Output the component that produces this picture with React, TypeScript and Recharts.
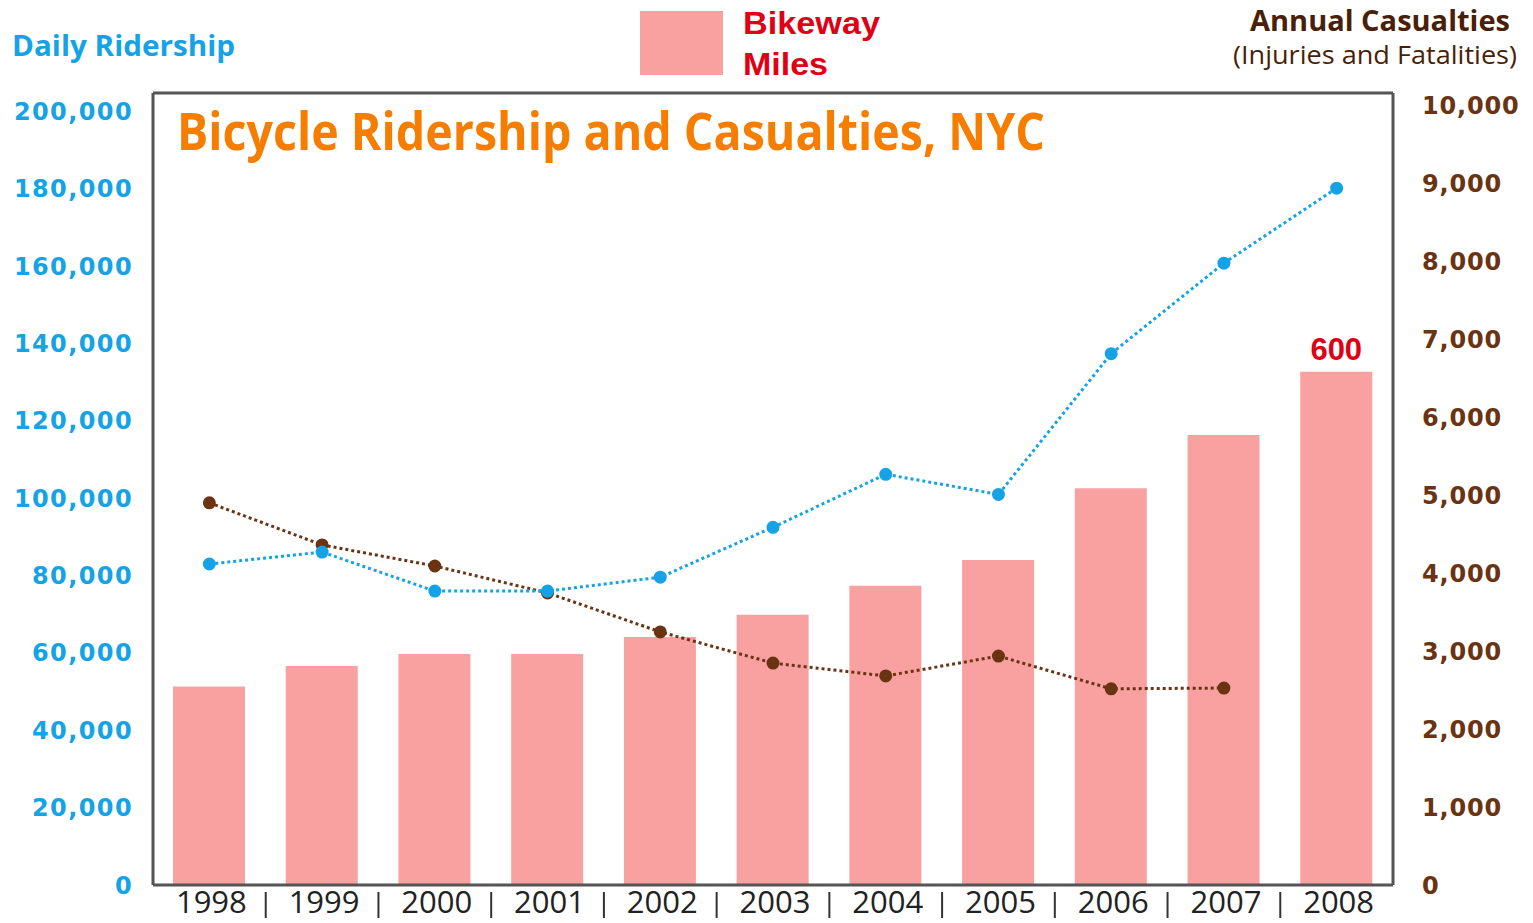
import React from 'react';
import {
  ComposedChart, Bar, Line, XAxis, YAxis, LabelList,
} from 'recharts';

const years = ['1998', '1999', '2000', '2001', '2002', '2003', '2004', '2005', '2006', '2007', '2008'];
const bikewayMiles = [232, 256, 270, 270, 290, 316, 350, 380, 464, 526, 600];
const dailyRidership = [83000, 86100, 76000, 76000, 79600, 92500, 106200, 101000, 137400, 160800, 180200];
const casualties: (number | null)[] = [4900, 4360, 4090, 3745, 3245, 2845, 2680, 2935, 2515, 2525, null];

const ridershipTicks = [0, 20000, 40000, 60000, 80000, 100000, 120000, 140000, 160000, 180000, 200000];
const casualtyTicks = [0, 1000, 2000, 3000, 4000, 5000, 6000, 7000, 8000, 9000, 10000];

const data = years.map((year, i) => ({
  year,
  miles: bikewayMiles[i],
  riders: dailyRidership[i],
  casualties: casualties[i],
}));

const BLUE = '#15a3e6';
const BROWN = '#6a3413';
const PINK = '#f9a1a1';
const FRAME = '#555';

const fmt = (v: number) => v.toLocaleString('en-US');

const YearTick = ({ x, y, payload, index, width, visibleTicksCount }: any) => {
  const step = width && visibleTicksCount ? width / visibleTicksCount : 1240 / 11;
  return (
    <g>
      <text x={x + 2} y={y + 26} textAnchor="middle" fill="#222"
        style={{ fontFamily: 'Open Sans', fontSize: 31 }}>
        {payload.value}
      </text>
      {index < years.length - 1 && (
        <line x1={x + step / 2} x2={x + step / 2} y1={y + 5} y2={y + 31} stroke="#333" strokeWidth={2} />
      )}
    </g>
  );
};

const LastLabel = (props: any) => {
  const { x, y, width, index, value } = props;
  if (index !== years.length - 1) return null;
  return (
    <text x={x + width / 2} y={y - 12} textAnchor="middle" fill="#e00016"
      style={{ fontFamily: 'Liberation Sans', fontWeight: 700, fontSize: 31 }}>
      {value}
    </text>
  );
};

export default function App() {
  return (
    <div style={{ position: 'absolute', left: 0, top: 0, width: 1533, height: 923, background: '#fff' }}>
      <ComposedChart width={1533} height={923} data={data}
        margin={{ top: 92, right: 0, bottom: 0, left: 0 }}>
        <XAxis dataKey="year" xAxisId="x" height={38} tickSize={0} tick={<YearTick />}
          axisLine={{ stroke: FRAME, strokeWidth: 3 }} interval={0} />
        <XAxis dataKey="year" xAxisId="top" orientation="top" height={1} tick={false}
          axisLine={{ stroke: FRAME, strokeWidth: 3 }} />
        <YAxis yAxisId="riders" orientation="left" width={153} domain={[0, 204800]}
          ticks={ridershipTicks} tickFormatter={fmt} tickSize={0} tickMargin={20}
          axisLine={{ stroke: FRAME, strokeWidth: 3 }}
          tick={{ fill: BLUE, fontFamily: 'DejaVu Sans', fontWeight: 700, fontSize: 24, letterSpacing: 1.4 }} />
        <YAxis yAxisId="cas" orientation="right" width={140} domain={[0, 10154]}
          ticks={casualtyTicks} tickFormatter={fmt} tickSize={0} tickMargin={29}
          axisLine={{ stroke: FRAME, strokeWidth: 3 }}
          tick={{ fill: BROWN, fontFamily: 'DejaVu Sans', fontWeight: 700, fontSize: 24, letterSpacing: 0.8, textAnchor: 'start' }} />
        <YAxis yAxisId="miles" orientation="right" width={0} hide domain={[0, 926]} />
        <Bar dataKey="miles" xAxisId="x" yAxisId="miles" fill={PINK} barSize={72} isAnimationActive={false}>
          <LabelList dataKey="miles" content={<LastLabel />} />
        </Bar>
        <Line dataKey="casualties" xAxisId="x" yAxisId="cas" stroke={BROWN} strokeWidth={3}
          strokeDasharray="3 3" dot={{ r: 5, fill: BROWN, stroke: BROWN, strokeDasharray: '' }}
          isAnimationActive={false} connectNulls={false} />
        <Line dataKey="riders" xAxisId="x" yAxisId="riders" stroke={BLUE} strokeWidth={3}
          strokeDasharray="3 3" dot={{ r: 5, fill: BLUE, stroke: BLUE, strokeDasharray: '' }}
          isAnimationActive={false} />
      </ComposedChart>
      <svg width={1533} height={923} style={{ position: 'absolute', left: 0, top: 0, pointerEvents: 'none' }}>
        <text x={12} y={56} fill={BLUE} textLength={223} lengthAdjust="spacingAndGlyphs"
          style={{ fontFamily: 'Open Sans', fontWeight: 700, fontSize: 29 }}>Daily Ridership</text>
        <rect x={640} y={11} width={83} height={64} fill={PINK} />
        <text x={743} y={34} fill="#e00016" textLength={137} lengthAdjust="spacingAndGlyphs"
          style={{ fontFamily: 'Liberation Sans', fontWeight: 700, fontSize: 32 }}>Bikeway</text>
        <text x={743} y={75} fill="#e00016" textLength={85} lengthAdjust="spacingAndGlyphs"
          style={{ fontFamily: 'Liberation Sans', fontWeight: 700, fontSize: 32 }}>Miles</text>
        <text x={1510} y={31} fill="#4a1f08" textAnchor="end" textLength={260} lengthAdjust="spacingAndGlyphs"
          style={{ fontFamily: 'Open Sans', fontWeight: 700, fontSize: 28 }}>Annual Casualties</text>
        <text x={1517} y={64} fill="#4a1f08" textAnchor="end" textLength={284} lengthAdjust="spacingAndGlyphs"
          style={{ fontFamily: 'Open Sans', fontSize: 26 }}>(Injuries and Fatalities)</text>
        <text x={177} y={150} fill="#f57d00" textLength={868} lengthAdjust="spacingAndGlyphs"
          style={{ fontFamily: 'Open Sans', fontWeight: 700, fontSize: 52 }}>Bicycle Ridership and Casualties, NYC</text>
      </svg>
    </div>
  );
}
